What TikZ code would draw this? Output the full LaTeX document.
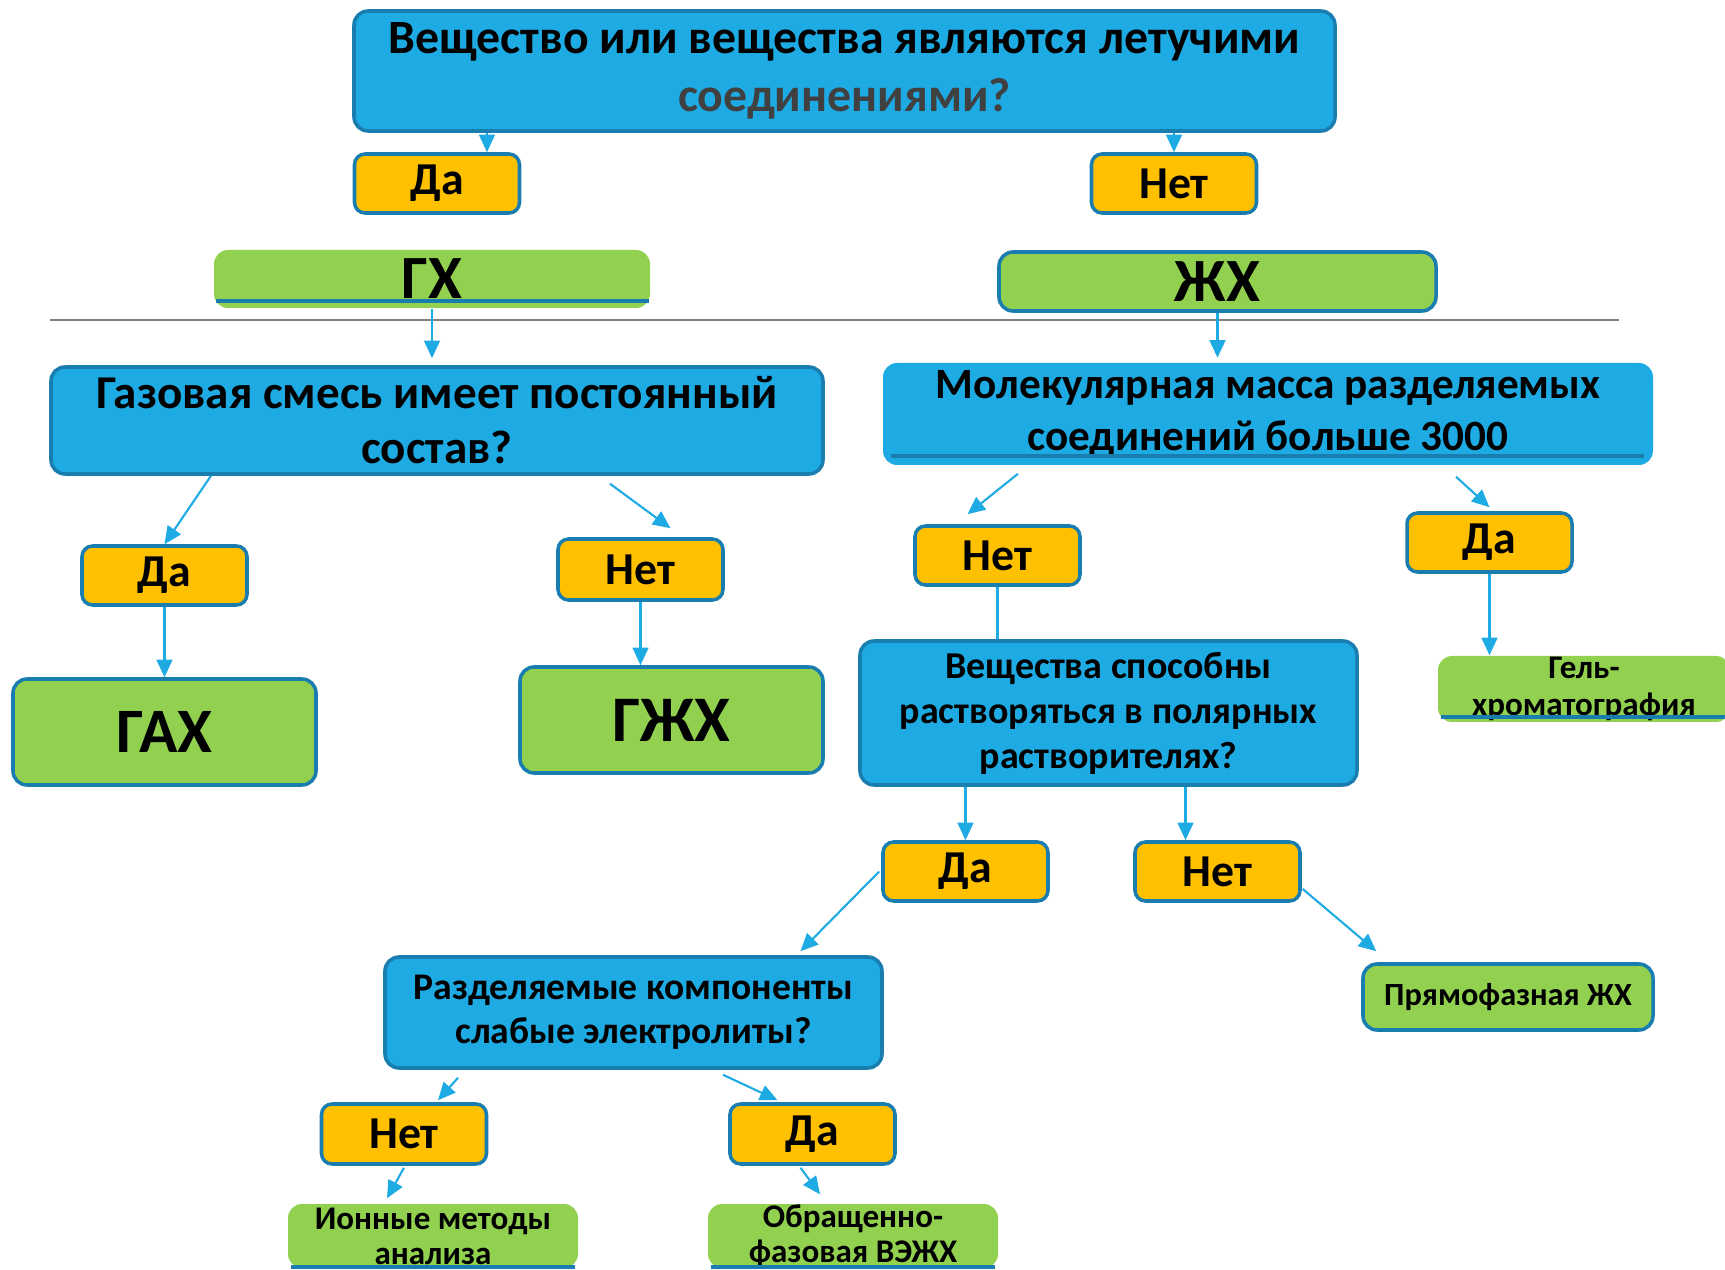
\documentclass[tikz,border=0pt]{standalone}
\usepackage{fontspec}
\setmainfont{Carlito}
\usepackage{tikz}
\usetikzlibrary{arrows.meta,calc}

\definecolor{qblue}{RGB}{30,170,226}
\definecolor{edgeblue}{RGB}{25,125,175}
\definecolor{ansyellow}{RGB}{255,192,0}
\definecolor{mgreen}{RGB}{146,208,80}
\definecolor{arrblue}{RGB}{30,170,226}
\definecolor{darkgrey}{RGB}{64,64,64}

\tikzstyle{question} = [draw=edgeblue,line width=1pt,fill=qblue,rounded corners=4pt,align=center,inner sep=0pt]
\tikzstyle{answer} = [draw=edgeblue,line width=1pt,fill=ansyellow,rounded corners=3pt,inner sep=0pt,minimum width=1.65cm,minimum height=0.59cm,font=\bfseries\fontsize{13}{15}\selectfont]
\tikzstyle{method} = [draw=edgeblue,line width=1pt,fill=mgreen,rounded corners=4pt,align=center,inner sep=0pt]
\tikzstyle{plainmethod} = [fill=mgreen,rounded corners=4pt,align=center,inner sep=0pt]
\tikzstyle{underbar} = [draw=edgeblue,line width=1.2pt]
\tikzstyle{arrow} = [line width=0.6pt,draw=arrblue,-{Triangle[length=5pt,width=4.5pt]}]
\tikzstyle{link} = [line width=0.6pt,draw=arrblue]

\begin{document}
\begin{tikzpicture}

%	\draw[help lines] (0,0) grid (17,12);
	\useasboundingbox (0,0) rectangle (17.25,12.69);

	% Top question
	\node[question,minimum width=9.81cm,minimum height=1.20cm,font=\bfseries\fontsize{13.6}{16.5}\selectfont] (q1) at (8.445,11.98)
		{Вещество или вещества являются летучими\\
		 \textcolor{darkgrey}{соединениями?}};
	\node[answer] (da1) at (4.37,10.855) {Да};
	\node[answer] (net1) at (11.74,10.855) {Нет};

	% Gas and liquid chromatography
	\node[plainmethod,minimum width=4.36cm,minimum height=0.58cm,font=\bfseries\fontsize{17.5}{19}\selectfont] (gx) at (4.32,9.90) {ГХ};
	\draw[underbar] ($(gx.south west)+(0.03,0.08)$) -- ($(gx.south east)+(-0.02,0.08)$);
	\node[method,minimum width=4.37cm,minimum height=0.59cm,font=\bfseries\fontsize{17.5}{19}\selectfont] (zx) at (12.175,9.875) {ЖХ};

	% Separator
	\draw[gray,line width=0.5pt] (0.50,9.49) -- (16.19,9.49);

	% Questions of the second level
	\node[question,minimum width=7.72cm,minimum height=1.07cm,font=\bfseries\fontsize{13.4}{15.6}\selectfont] (q2) at (4.37,8.485)
		{Газовая смесь имеет постоянный\\состав?};
	\node[question,draw=none,minimum width=7.70cm,minimum height=1.02cm,font=\bfseries\fontsize{12.3}{14.8}\selectfont] (q3) at (12.68,8.55)
		{Молекулярная масса разделяемых\\соединений больше 3000};
	\draw[underbar] ($(q3.south west)+(0.10,0.11)$) -- ($(q3.south east)+(-0.11,0.11)$);

	% Gas branch
	\node[answer] (da2) at (1.645,6.935) {Да};
	\node[answer,minimum height=0.61cm] (net2) at (6.405,6.995) {Нет};
	\node[method,minimum width=3.03cm,minimum height=1.06cm,font=\bfseries\fontsize{18}{20}\selectfont] (gax) at (1.645,5.37) {ГАХ};
	\node[method,minimum width=3.03cm,minimum height=1.06cm,font=\bfseries\fontsize{18.5}{20}\selectfont] (gzx) at (6.715,5.49) {ГЖХ};

	% Liquid branch
	\node[answer] (net3) at (9.975,7.135) {Нет};
	\node[answer] (da3) at (14.895,7.265) {Да};
	\node[question,minimum width=4.97cm,minimum height=1.44cm,font=\bfseries\fontsize{10.8}{12.8}\selectfont] (q4) at (11.085,5.56)
		{Вещества способны\\растворяться в полярных\\растворителях?};
	\node[plainmethod,minimum width=2.92cm,minimum height=0.66cm,font=\bfseries\fontsize{9.4}{10.6}\selectfont] (gel) at (15.84,5.80)
		{Гель-\\хроматография};
	\draw[underbar] ($(gel.south west)+(0.04,0.06)$) -- ($(gel.south east)+(0,0.06)$);
	\node[answer] (da4) at (9.655,3.975) {Да};
	\node[answer] (net4) at (12.175,3.975) {Нет};
	\node[method,minimum width=2.90cm,minimum height=0.66cm,font=\bfseries\fontsize{9.2}{10.5}\selectfont] (pryamo) at (15.08,2.72) {Прямофазная ЖХ};

	% Electrolytes
	\node[question,minimum width=4.97cm,minimum height=1.11cm,font=\bfseries\fontsize{10.7}{12.5}\selectfont] (q5) at (6.335,2.565)
		{Разделяемые компоненты\\слабые электролиты?};
	\node[answer,minimum height=0.60cm] (net5) at (4.04,1.35) {Нет};
	\node[answer,minimum height=0.60cm] (da5) at (8.125,1.35) {Да};
	\node[plainmethod,minimum width=2.90cm,minimum height=0.64cm,font=\bfseries\fontsize{9.4}{10}\selectfont] (ion) at (4.33,0.33)
		{Ионные методы\\анализа};
	\draw[underbar] ($(ion.south west)+(0.04,0.02)$) -- ($(ion.south east)+(-0.04,0.02)$);
	\node[plainmethod,minimum width=2.90cm,minimum height=0.64cm,font=\bfseries\fontsize{9.4}{10}\selectfont] (obr) at (8.53,0.33)
		{Обращенно-\\фазовая ВЭЖХ};
	\draw[underbar] ($(obr.south west)+(0.04,0.02)$) -- ($(obr.south east)+(-0.04,0.02)$);

	% Arrows of the top level
	\coordinate (a1) at ($(da1.north)+(0.50,0)$);
	\draw[arrow] (q1.south -| a1) -- (a1);
	\draw[arrow] (q1.south -| net1) -- (net1.north);
	\draw[arrow,shorten >=2pt] (gx.south) -- (gx.south |- q2.north);
	\draw[arrow,shorten >=1pt] (zx.south) -- (zx.south |- q3.north);

	% Arrows of the gas branch
	\draw[arrow] ($(q2.south)+(-2.26,0)$) -- (da2.north);
	\draw[arrow] ($(q2.south)+(1.73,-0.08)$) -- ($(net2.north)+(0.30,0.09)$);
	\draw[arrow] (da2.south) -- (gax.north);
	\draw[arrow] (net2.south) -- (net2.south |- gzx.north);

	% Arrows of the liquid branch
	\draw[arrow] ($(q3.south)+(-2.50,-0.07)$) -- ($(net3.north)+(-0.30,0.10)$);
	\draw[arrow] ($(q3.south)+(1.88,-0.10)$) -- ($(da3.north)+(0,0.04)$);
	\draw[link] (net3.south) -- (net3.south |- q4.north);
	\draw[arrow] (da3.south) -- (da3.south |- gel.north);
	\draw[arrow] (q4.south -| da4) -- (da4.north);
	\coordinate (a2) at ($(net4.north)+(-0.32,0)$);
	\draw[arrow] (q4.south -| a2) -- (a2);
	\draw[arrow] ($(net4.east)+(0.01,-0.175)$) -- ($(pryamo.north west)+(0.15,0.11)$);

	% Arrows of the electrolytes
	\draw[arrow] ($(da4.west)+(-0.02,0)$) -- ($(q5.north)+(1.67,0.04)$);
	\draw[arrow] ($(q5.south)+(-1.755,-0.08)$) -- ($(net5.north)+(0.34,0.02)$);
	\draw[arrow] ($(q5.south)+(0.895,-0.05)$) -- ($(da5.north)+(-0.35,0.02)$);
	\draw[arrow] ($(net5.south)+(0,-0.02)$) -- ($(ion.north)+(-0.46,0.05)$);
	\draw[arrow] ($(da5.south)+(-0.12,-0.02)$) -- ($(obr.north)+(-0.33,0.09)$);

\end{tikzpicture}
\end{document}
